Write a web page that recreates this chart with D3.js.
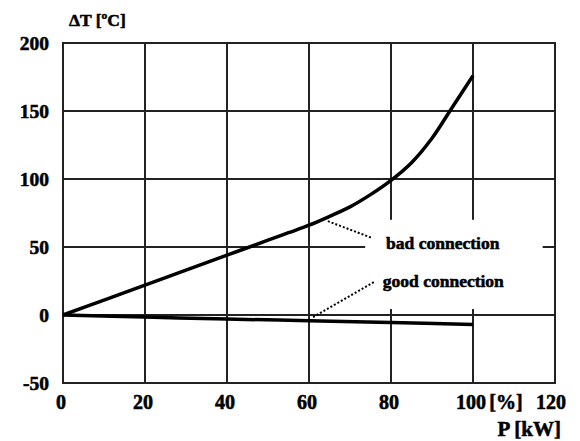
<!DOCTYPE html>
<html><head><meta charset="utf-8">
<script src="https://cdn.jsdelivr.net/npm/d3@7"></script>
<style>
html,body{margin:0;padding:0;background:#fff;}
text{font-family:"Liberation Serif","Times New Roman",serif;font-weight:bold;fill:#000;stroke:#000;stroke-width:0.55px;}
</style></head>
<body>
<svg id="c" width="580" height="441"></svg>
<script>
// ---- data ----
const xTicks = [0, 20, 40, 60, 80, 100, 120];
const yTicks = [-50, 0, 50, 100, 150, 200];
const badX = [0, 10, 20, 30, 40, 50, 55, 60, 65, 70, 75, 80, 85, 90, 95, 100];
const badY = [0, 11, 22, 33, 44, 55, 60.5, 66, 72.5, 79.5, 88.5, 99, 112, 130, 153, 176];
const goodX = [0, 20, 40, 60, 80, 100];
const goodY = [0, -1.5, -3, -4.2, -5.5, -7];
const labels = ["bad connection", "good connection"];
const labelPos = [[78.8, 48.5], [78.0, 20.5]];      // data units (start, baseline)
const leaderBad = [[64.6, 69], [75.4, 56.6]];
const leaderGood = [[61, -1.5], [75.9, 24.3]];
const maskBox = [[73.7, 70], [117, 4.4]];           // white area behind labels
const yTitle = "ΔT [ºC]";
const xUnit = "[%]";
const xTitle = "P [kW]";

// ---- layout ----
const svg = d3.select("#c");
const x = d3.scaleLinear().domain([0, 120]).range([63, 555]);
const y = d3.scaleLinear().domain([-50, 200]).range([383, 43]);
const gridColor = "#222";

// grid
const g = svg.append("g");
g.selectAll("line.v").data(xTicks).join("line")
  .attr("x1", d => x(d)).attr("x2", d => x(d))
  .attr("y1", y(200)).attr("y2", y(-50))
  .attr("stroke", gridColor).attr("stroke-width", 2);
g.selectAll("line.h").data(yTicks).join("line")
  .attr("y1", d => y(d)).attr("y2", d => y(d))
  .attr("x1", x(0)).attr("x2", x(120))
  .attr("stroke", gridColor).attr("stroke-width", 2);

// white mask behind annotation text
svg.append("rect")
  .attr("x", x(maskBox[0][0])).attr("y", y(maskBox[0][1]))
  .attr("width", x(maskBox[1][0]) - x(maskBox[0][0]))
  .attr("height", y(maskBox[1][1]) - y(maskBox[0][1]))
  .attr("fill", "#fff");

// border
svg.append("rect")
  .attr("x", x(0)).attr("y", y(200))
  .attr("width", x(120) - x(0)).attr("height", y(-50) - y(200))
  .attr("fill", "none").attr("stroke", gridColor).attr("stroke-width", 2);

// y tick labels
svg.selectAll("text.yl").data(yTicks).join("text")
  .attr("x", 49).attr("y", d => y(d) + 7)
  .attr("text-anchor", "end").attr("font-size", 19.5)
  .text(d => d);

// x tick labels
svg.selectAll("text.xl").data(xTicks).join("text")
  .attr("x", (d, i) => i === xTicks.length - 1 ? x(d) + 11 : x(d) - 2)
  .attr("y", 409)
  .attr("text-anchor", (d, i) => i === xTicks.length - 1 ? "end" : "middle")
  .attr("font-size", 20)
  .text(d => d);

svg.append("text").attr("x", 506).attr("y", 409).attr("text-anchor", "middle")
  .attr("font-size", 20).text(xUnit);
svg.append("text").attr("x", 561).attr("y", 436).attr("text-anchor", "end")
  .attr("font-size", 21).text(xTitle);
svg.append("text").attr("x", 69).attr("y", 26).attr("font-size", 17.5).text(yTitle);

// curves
const line = d3.line().x(d => x(d[0])).y(d => y(d[1])).curve(d3.curveCatmullRom.alpha(0.5));
svg.append("path").datum(badX.map((v, i) => [v, badY[i]]))
  .attr("d", line).attr("fill", "none").attr("stroke", "#000").attr("stroke-width", 3.5);
svg.append("path").datum(goodX.map((v, i) => [v, goodY[i]]))
  .attr("d", line).attr("fill", "none").attr("stroke", "#000").attr("stroke-width", 3.5);

// leaders
const lline = d3.line().x(d => x(d[0])).y(d => y(d[1]));
[leaderBad, leaderGood].forEach(l => {
  svg.append("path").attr("d", lline(l)).attr("fill", "none")
    .attr("stroke", "#000").attr("stroke-width", 2).attr("stroke-dasharray", "2,2");
});

// labels
svg.selectAll("text.ann").data(labels).join("text")
  .attr("x", (d, i) => x(labelPos[i][0])).attr("y", (d, i) => y(labelPos[i][1]))
  .attr("font-size", 17.5).text(d => d);
</script>
</body></html>
